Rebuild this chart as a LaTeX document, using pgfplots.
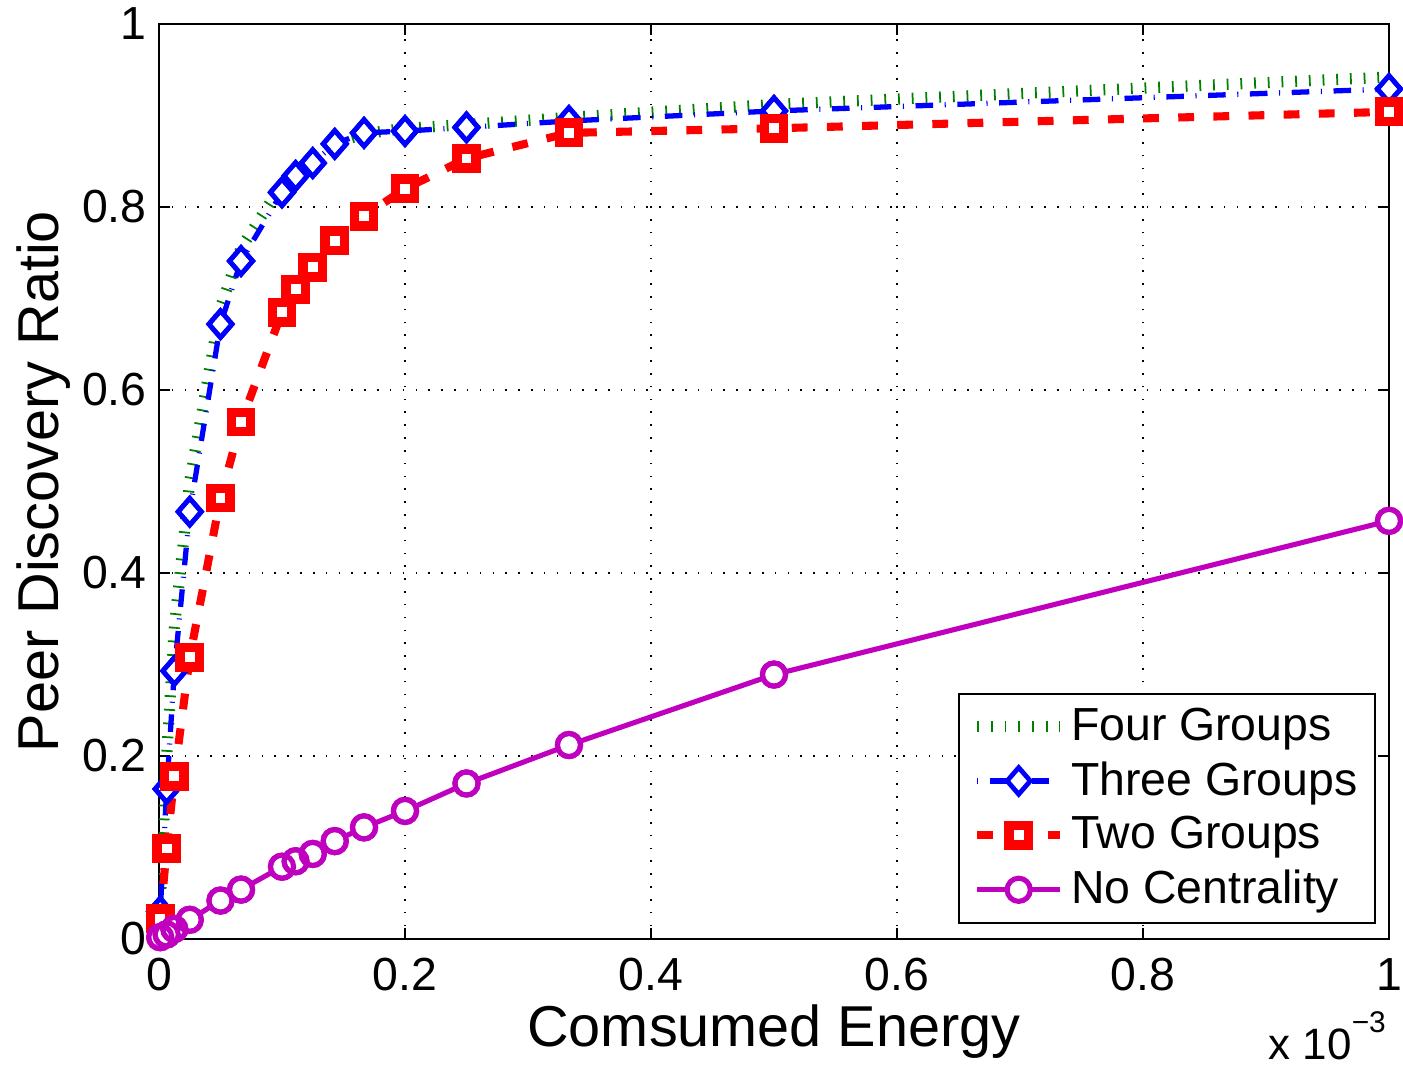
\documentclass[border=0pt]{standalone}
\usepackage{fontspec}
\setmainfont{Liberation Sans}
\usepackage{pgfplots}
\usepackage{pgfplotstable}
\pgfplotsset{compat=1.18}
\usetikzlibrary{calc}

\definecolor{fourg}{rgb}{0,0.5,0}
\definecolor{threeg}{rgb}{0,0,1}
\definecolor{twog}{rgb}{1,0,0}
\definecolor{nocen}{rgb}{0.75,0,0.75}

\newcommand{\tickfont}{\fontsize{13.2}{15}\selectfont}
\newcommand{\labfont}{\fontsize{16.4}{19}\selectfont}

% matlab style diamond, a bit taller than wide (filled and open)
\pgfdeclareplotmark{mdiamond*}{%
  \pgfpathmoveto{\pgfqpoint{0pt}{1.15\pgfplotmarksize}}%
  \pgfpathlineto{\pgfqpoint{\pgfplotmarksize}{0pt}}%
  \pgfpathlineto{\pgfqpoint{0pt}{-1.15\pgfplotmarksize}}%
  \pgfpathlineto{\pgfqpoint{-\pgfplotmarksize}{0pt}}%
  \pgfpathclose\pgfusepathqfillstroke}
\pgfdeclareplotmark{mdiamond}{%
  \pgfpathmoveto{\pgfqpoint{0pt}{1.15\pgfplotmarksize}}%
  \pgfpathlineto{\pgfqpoint{\pgfplotmarksize}{0pt}}%
  \pgfpathlineto{\pgfqpoint{0pt}{-1.15\pgfplotmarksize}}%
  \pgfpathlineto{\pgfqpoint{-\pgfplotmarksize}{0pt}}%
  \pgfpathclose\pgfusepathqstroke}

\pgfplotstableread{
x        four   three  two    none
0.001    0.040  0.030  0.022  0.002
0.00625  0.200  0.164  0.099  0.005
0.0125   0.340  0.293  0.178  0.011
0.025    0.500  0.467  0.308  0.021
0.05     0.690  0.672  0.482  0.042
0.0667   0.755  0.741  0.565  0.054
0.1      0.825  0.816  0.685  0.079
0.1111   0.840  0.834  0.710  0.085
0.125    0.853  0.848  0.734  0.093
0.1429   0.870  0.869  0.763  0.107
0.1667   0.880  0.881  0.790  0.122
0.2      0.886  0.883  0.820  0.140
0.25     0.890  0.887  0.853  0.170
0.3333   0.898  0.894  0.881  0.212
0.5      0.912  0.905  0.886  0.289
1        0.942  0.929  0.904  0.457
}\datatable

\begin{document}
\begin{tikzpicture}
\begin{axis}[name=ax, scale only axis, width=12.3cm, height=9.15cm,
  xmin=0, xmax=1, ymin=0, ymax=1,
  xtick={0,0.2,0.4,0.6,0.8,1}, xticklabels={0,0.2,0.4,0.6,0.8,1},
  ytick={0,0.2,0.4,0.6,0.8,1}, yticklabels={0,0.2,0.4,0.6,0.8,1},
  scaled ticks=false,
  tick align=inside, tick pos=both, major tick length=3.2pt,
  every tick/.style={black, line width=0.6pt},
  axis line style={line width=0.6pt},
  grid=major, major grid style={black, line width=0.4pt, dash pattern=on 0.45pt off 3.2pt},
  tick label style={font=\tickfont},
  xticklabel style={yshift=-0.7mm},
  xlabel={Comsumed Energy}, ylabel={Peer Discovery Ratio},
  label style={font=\labfont},
  xlabel style={at={(axis description cs:0.5,-0.118)}, anchor=base},
  ylabel style={at={(axis description cs:-0.0813,0.5)}, anchor=base},
  legend style={at={(0.9894,0.0164)}, anchor=south east, draw=black, line width=0.6pt,
    fill=white, font=\tickfont, inner xsep=3.5pt, inner ysep=1.6pt,
    nodes={inner xsep=1.5pt, inner ysep=2.3pt}},
  legend cell align=left,
  legend image code/.code={\draw[mark repeat=2, mark phase=2, #1] plot coordinates {(0mm,0mm) (4.15mm,0mm) (8.3mm,0mm)};},
]
\addplot[fourg, line width=3.2pt, dash pattern=on 0.5pt off 3.4pt] table[x=x, y=four] {\datatable};
\addlegendentry{Four Groups}

\addplot[threeg, line width=1.5pt, dash pattern=on 0.3pt off 3.3pt on 5pt off 3.3pt,
  mark=mdiamond*, mark size=3.3pt, mark options={solid, fill=white, line width=1.35pt}] table[x=x, y=three] {\datatable};
\addlegendentry{Three Groups}
\addplot[forget plot, only marks, threeg, mark=mdiamond, mark size=3.3pt,
  mark options={solid, line width=1.35pt}] table[x=x, y=three] {\datatable};

\addplot[twog, line width=2.3pt, dash pattern=on 4.5pt off 5.5pt,
  mark=square*, mark size=2.75pt, mark options={solid, fill=white, line width=2.7pt}] table[x=x, y=two] {\datatable};
\addlegendentry{Two Groups}
\addplot[forget plot, only marks, twog, mark=square, mark size=2.75pt,
  mark options={solid, line width=2.7pt}] table[x=x, y=two] {\datatable};

\addplot[nocen, line width=1.45pt, mark=*, mark size=3.3pt,
  mark options={solid, fill=white, draw=nocen, line width=1.45pt}] table[x=x, y=none] {\datatable};
\addlegendentry{No Centrality}
\addplot[forget plot, only marks, nocen, mark=o, mark size=3.3pt,
  mark options={solid, line width=1.45pt}] table[x=x, y=none] {\datatable};
\end{axis}
\node[anchor=base west, inner sep=0pt, font=\fontsize{12.5}{14}\selectfont]
  at ($(ax.south west)+(11.09cm,-1.2cm)$) {x 10\raisebox{7.5pt}{\fontsize{8.5}{9}\selectfont −3}};
\pgfresetboundingbox
\path ($(ax.south west)+(-1.59cm,-1.25cm)$) rectangle ($(ax.north east)+(0.14cm,0.24cm)$);
\end{tikzpicture}
\end{document}
